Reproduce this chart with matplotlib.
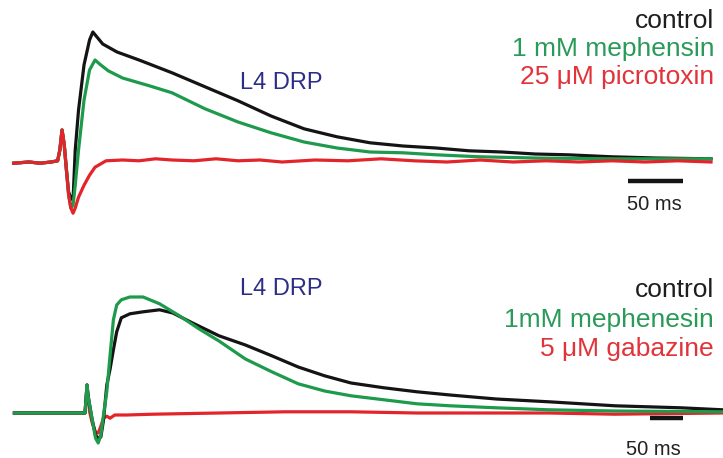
import matplotlib
matplotlib.use("Agg")
import matplotlib.pyplot as plt

plt.rcParams['font.family'] = ['Liberation Sans', 'DejaVu Sans']

# top panel: L4 DRP, picrotoxin experiment (time in ms, potential in mV)
top_ctrl_t = [-44, -30, -20, -10, -4, -2, 0, 2, 4, 6, 8, 10, 12, 15, 20, 25, 28, 31, 37, 50, 70,
              100, 130, 160, 190, 220, 250, 280, 310, 340, 370, 400, 430, 460, 500, 540, 590]
top_ctrl_v = [-0.03, 0, -0.03, 0, 0.03, 0.3, 0.8, 0.43, -0.2, -0.75, -0.9, -0.95, 0.3, 1.3, 2.43,
              3.05, 3.25, 3.15, 2.95, 2.75, 2.55, 2.23, 1.88, 1.53, 1.15, 0.83, 0.63, 0.48, 0.4,
              0.35, 0.28, 0.25, 0.2, 0.18, 0.13, 0.1, 0.08]

top_meph_t = [-44, -30, -20, -10, -4, -2, 0, 2, 4, 6, 8, 10, 12, 15, 20, 25, 30, 35, 42, 55, 80,
              100, 130, 160, 190, 220, 250, 280, 310, 340, 380, 430, 500, 590]
top_meph_v = [-0.03, 0, -0.03, 0, 0.03, 0.3, 0.8, 0.43, -0.2, -0.83, -1.15, -1.08, -0.58, 0.3,
              1.55, 2.3, 2.55, 2.43, 2.28, 2.1, 1.9, 1.73, 1.33, 1.0, 0.73, 0.5, 0.35, 0.25,
              0.23, 0.18, 0.13, 0.1, 0.08, 0.08]

top_picro_t = [-44, -30, -20, -10, -4, -2, 0, 2, 4, 6, 8, 10, 12, 15, 20, 25, 30, 40, 55, 70, 85,
               100, 120, 140, 160, 180, 200, 230, 260, 290, 320, 350, 380, 410, 440, 470, 500,
               530, 560, 590]
top_picro_v = [-0.03, 0, -0.03, 0, 0.03, 0.3, 0.8, 0.43, -0.2, -0.83, -1.15, -1.28, -1.15, -0.88,
               -0.58, -0.33, -0.13, 0.03, 0.05, 0.03, 0.08, 0.05, 0.03, 0.08, 0.03, 0.05, 0,
               0.05, 0.03, 0.08, 0.03, 0, 0.05, 0, 0.03, 0, 0.03, 0, 0.03, 0]

# bottom panel: L4 DRP, gabazine experiment
bot_ctrl_t = [-110, -60, -20, -3, -1, 0, 1.5, 4, 8, 13, 17, 21, 25, 30, 35, 40, 45, 52, 65, 85,
              110, 130, 160, 200, 240, 280, 320, 360, 400, 450, 500, 550, 620, 700, 800, 900, 963]
bot_ctrl_v = [0, 0, 0, 0, 0.45, 0.7, 0.45, 0.2, -0.18, -0.55, -0.63, -0.6, -0.18, 0.7, 1.1, 1.58,
              2.03, 2.38, 2.48, 2.53, 2.58, 2.5, 2.25, 1.93, 1.7, 1.43, 1.15, 0.93, 0.75, 0.63,
              0.53, 0.45, 0.35, 0.28, 0.18, 0.13, 0.08]

bot_meph_t = [-110, -60, -20, -3, -1, 0, 1.5, 4, 8, 13, 17, 21, 25, 30, 35, 40, 45, 52, 65, 85,
              110, 140, 170, 200, 240, 280, 320, 360, 400, 450, 500, 550, 620, 700, 800, 963]
bot_meph_v = [0, 0, 0, 0, 0.45, 0.7, 0.45, 0.2, -0.18, -0.63, -0.75, -0.55, -0.05, 0.53, 1.45,
              2.33, 2.7, 2.83, 2.9, 2.9, 2.73, 2.43, 2.1, 1.8, 1.35, 1.03, 0.73, 0.55, 0.43, 0.33,
              0.23, 0.18, 0.13, 0.08, 0.05, 0.03]

bot_gaba_t = [-110, -60, -20, -3, -1, 0, 1.5, 4, 8, 13, 17, 21, 25, 30, 35, 42, 60, 100, 200,
              300, 400, 500, 600, 700, 800, 963]
bot_gaba_v = [0, 0, 0, 0, 0.45, 0.7, 0.45, 0.03, -0.25, -0.48, -0.5, -0.33, -0.13, -0.08, -0.13,
              -0.05, -0.05, -0.03, 0, 0.03, 0.03, 0, 0, 0, -0.03, 0]

top_labels = ['control', '1 mM mephensin', '25 \u03bcM picrotoxin']
bot_labels = ['control', '1mM mephenesin', '5 \u03bcM gabazine']
scalebar_ms = 50

BLACK = '#141414'
GREEN = '#1d9a4b'
RED = '#e3242b'
NAVY = '#2c2e86'
label_colors = ['#1e1e1e', '#2a9a58', '#e2333a']

fig = plt.figure(figsize=(7.23, 4.58), dpi=100)
ax1 = fig.add_axes([0, 0.5, 1, 0.5])
ax2 = fig.add_axes([0, 0, 1, 0.5])

lw = 2.3
ax1.plot(top_ctrl_t, top_ctrl_v, color=BLACK, lw=lw, solid_joinstyle='round')
ax1.plot(top_meph_t, top_meph_v, color=GREEN, lw=lw, solid_joinstyle='round')
ax1.plot(top_picro_t, top_picro_v, color=RED, lw=lw, solid_joinstyle='round')
ax1.set_xlim(-56.4, 600.9)
ax1.set_ylim(-(229 - 162) / 40, 162 / 40)

ax2.plot(bot_gaba_t, bot_gaba_v, color=RED, lw=lw, solid_joinstyle='round')
ax2.plot(bot_ctrl_t, bot_ctrl_v, color=BLACK, lw=lw, solid_joinstyle='round')
ax2.plot(bot_meph_t, bot_meph_v, color=GREEN, lw=lw, solid_joinstyle='round')
ax2.set_xlim(-131.8, 963.6)
ax2.set_ylim(-(458 - 413) / 40, (413 - 229) / 40)

# scale bars
ax1.plot([514.5, 514.5 + scalebar_ms], [-0.475, -0.475], color=BLACK, lw=3.2, solid_capstyle='butt')
ax2.plot([853, 853 + scalebar_ms], [-0.13, -0.13], color=BLACK, lw=3.2, solid_capstyle='butt')

for ax in (ax1, ax2):
    ax.axis('off')

# labels
for lab, c, yb in zip(top_labels, label_colors, [28, 56, 84]):
    fig.text(714 / 723, 1 - yb / 458, lab, color=c, fontsize=19, ha='right', va='baseline')
for lab, c, yb in zip(bot_labels, label_colors, [297, 327, 356]):
    fig.text(714 / 723, 1 - yb / 458, lab, color=c, fontsize=19, ha='right', va='baseline')

fig.text(240 / 723, 1 - 89 / 458, 'L4 DRP', color=NAVY, fontsize=17, ha='left', va='baseline')
fig.text(240 / 723, 1 - 295 / 458, 'L4 DRP', color=NAVY, fontsize=17, ha='left', va='baseline')

fig.text(654 / 723, 1 - 210 / 458, '50 ms', color='#222222', fontsize=14.5, ha='center', va='baseline')
fig.text(653 / 723, 1 - 455 / 458, '50 ms', color='#222222', fontsize=14.5, ha='center', va='baseline')

fig.savefig('out.png', dpi=100)
